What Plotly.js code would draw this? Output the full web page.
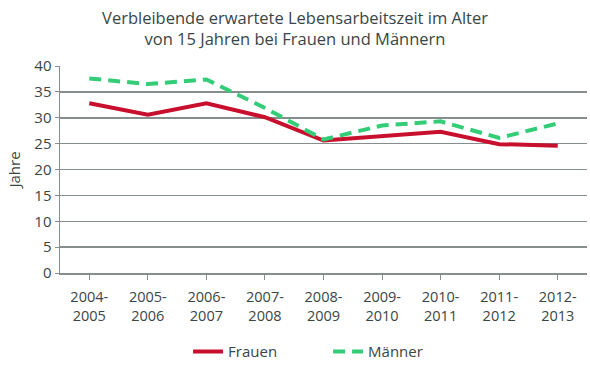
<!DOCTYPE html>
<html><head><meta charset="utf-8">
<script src="https://cdn.plot.ly/plotly-3.0.1.min.js"></script>
<style>body{margin:0;background:#fff}#c{width:590px;height:365px}</style>
</head><body><div id="c"></div>
<script>
const categories = ["2004-<br>2005","2005-<br>2006","2006-<br>2007","2007-<br>2008","2008-<br>2009","2009-<br>2010","2010-<br>2011","2011-<br>2012","2012-<br>2013"];
const frauen = [32.8, 30.6, 32.8, 30.1, 25.6, 26.5, 27.3, 24.9, 24.6];
const maenner = [37.6, 36.5, 37.4, 31.9, 25.8, 28.5, 29.3, 26.1, 28.9];
const yTicks = [0,5,10,15,20,25,30,35,40];

const txt = '#3a4646';
const font = {family: '"Open Sans", "Noto Sans", sans-serif', size: 13, color: txt};
const traces = [
  {x: categories, y: frauen, name: 'Frauen', type: 'scatter', mode: 'lines',
   line: {color: '#c8102e', width: 4}},
  {x: categories, y: maenner, name: 'Männer', type: 'scatter', mode: 'lines',
   line: {color: '#33cc77', width: 4, dash: '12px,7px'}}
];
const layout = {
  width: 590, height: 365,
  margin: {l: 60, r: 3, t: 66, b: 92, autoexpand: false},
  paper_bgcolor: '#fff', plot_bgcolor: '#fff',
  font: font,
  title: {text: 'Verbleibende erwartete Lebensarbeitszeit im Alter<br>von 15 Jahren bei Frauen und Männern',
          x: 0.5, xanchor: 'center', yref: 'container', y: 0.935, yanchor: 'bottom',
          font: {family: font.family, size: 16.5, color: txt}},
  xaxis: {type: 'category', range: [-0.5, 8.5], showgrid: false, showline: true,
          linecolor: '#858d8d', linewidth: 1.5, ticks: 'outside', ticklen: 5, tickcolor: '#858d8d',
          tickfont: {size: 14.5, color: txt}, ticklabelstandoff: 5, fixedrange: true, automargin: false},
  yaxis: {range: [0, 40], tickvals: yTicks, showgrid: true, gridcolor: '#858d8d', gridwidth: 1.5,
          showline: true, linecolor: '#858d8d', linewidth: 1.5, ticks: 'outside', ticklen: 4,
          tickcolor: '#858d8d', zeroline: false, tickfont: {size: 15, color: txt}, automargin: false,
          title: {text: 'Jahre', font: {size: 15, color: txt}, standoff: 10}},
  showlegend: true,
  legend: {orientation: 'h', x: 0.243, xanchor: 'left', yref: 'container', y: 0.036, yanchor: 'middle',
           entrywidth: 95, entrywidthmode: 'pixels', font: {size: 15, color: txt}}
};
Plotly.newPlot('c', traces, layout, {displayModeBar: false, staticPlot: true});
</script></body></html>
